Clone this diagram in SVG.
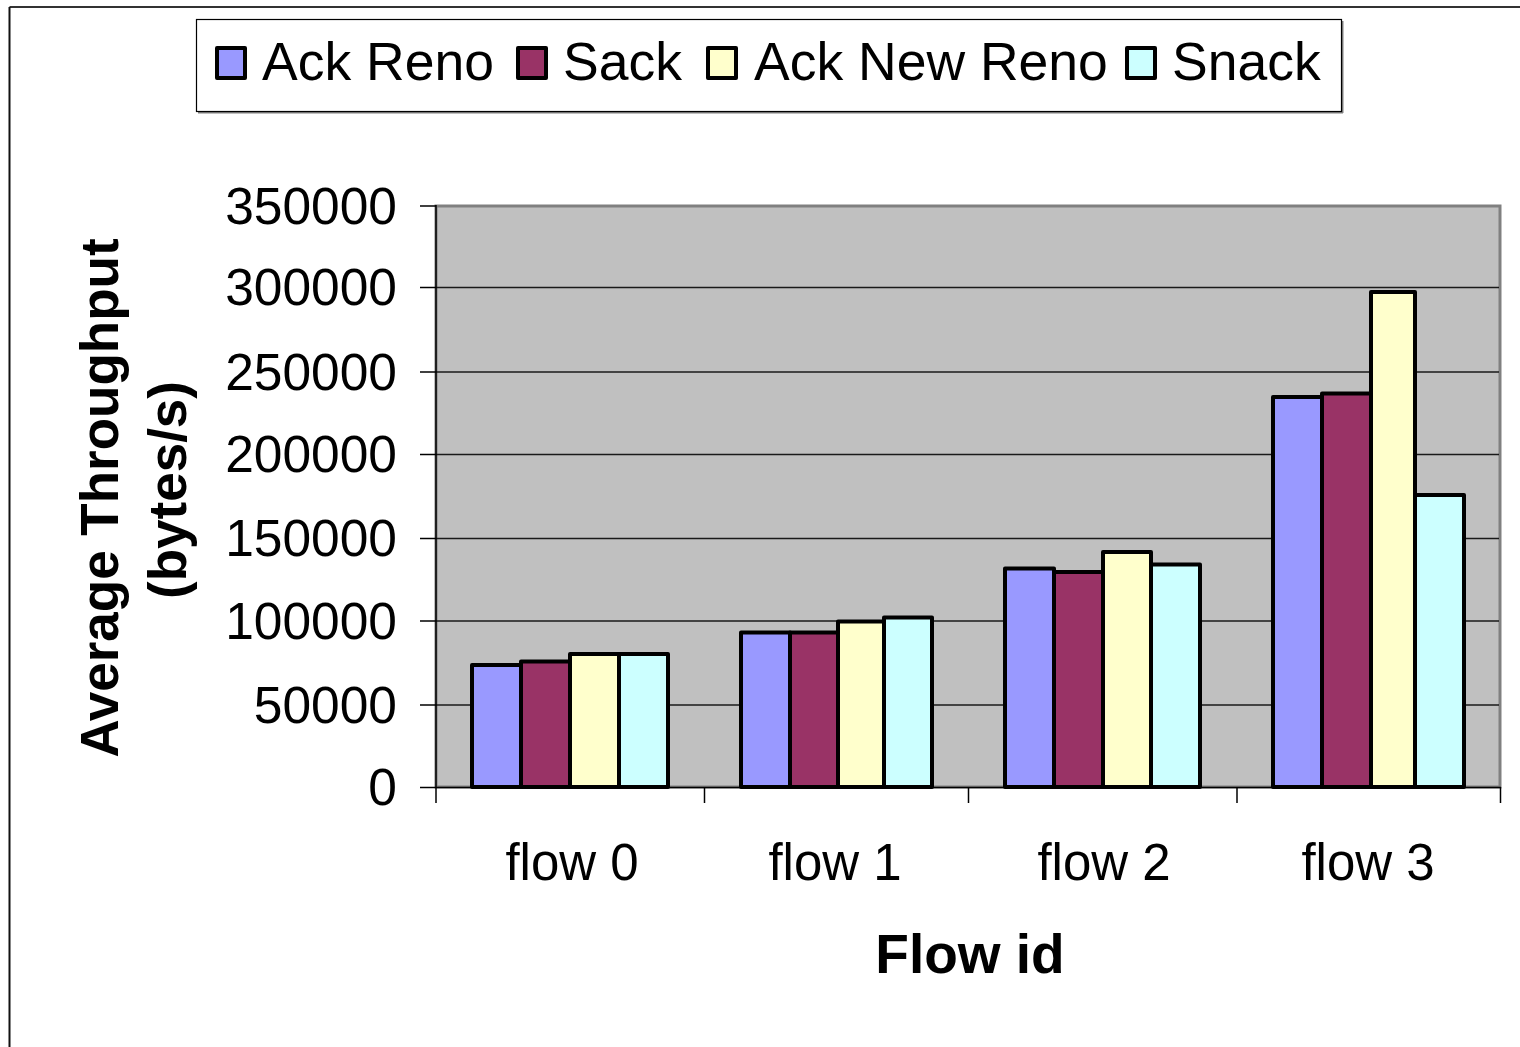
<svg xmlns="http://www.w3.org/2000/svg" width="1520" height="1047" viewBox="0 0 1520 1047">
  <style>
    text { font-family: "Liberation Sans", Arial, sans-serif; fill: #000; }
    .tick { font-size: 51.5px; text-anchor: end; }
    .cat { font-size: 51px; text-anchor: middle; }
    .leg { font-size: 53.5px; }
    .title { font-size: 53px; font-weight: bold; text-anchor: middle; }
    .xtitle { font-size: 55px; }
    .bar { stroke: #000; stroke-width: 4; stroke-linejoin: round; }
    .s1 { fill: #9999FF; }
    .s2 { fill: #993366; }
    .s3 { fill: #FFFFCC; }
    .s4 { fill: #CCFFFF; }
    .grid { stroke: #1a1a1a; stroke-width: 1.3; }
    .axis { stroke: #000; stroke-width: 1.5; }
  </style>

  <rect x="0" y="0" width="1520" height="1047" fill="#fff"/>

  <!-- outer chart frame -->
  <g id="frame">
    <line x1="9.5" y1="7" x2="1520" y2="7" stroke="#333" stroke-width="2"/>
    <line x1="9.5" y1="7" x2="9.5" y2="1047" stroke="#111" stroke-width="2"/>
  </g>

  <!-- legend -->
  <g id="legend">
    <line x1="198" y1="112.5" x2="1343" y2="112.5" stroke="#808080" stroke-width="2"/>
    <line x1="1342.5" y1="21" x2="1342.5" y2="113" stroke="#808080" stroke-width="2"/>
    <rect x="196.5" y="19.5" width="1145" height="92" fill="#fff" stroke="#000" stroke-width="1.2"/>
    <g id="legend-ack-reno">
      <rect class="bar s1" x="217" y="48" width="28" height="30"/>
      <text class="leg" x="262" y="80">Ack Reno</text>
    </g>
    <g id="legend-sack">
      <rect class="bar s2" x="518" y="48" width="28" height="30"/>
      <text class="leg" x="563" y="80">Sack</text>
    </g>
    <g id="legend-ack-new-reno">
      <rect class="bar s3" x="708" y="48" width="28" height="30"/>
      <text class="leg" x="754" y="80">Ack New Reno</text>
    </g>
    <g id="legend-snack">
      <rect class="bar s4" x="1127" y="48" width="28" height="30"/>
      <text class="leg" x="1172" y="80">Snack</text>
    </g>
  </g>

  <!-- plot area -->
  <g id="plot">
    <rect x="436" y="206" width="1064" height="581" fill="#C0C0C0" stroke="#808080" stroke-width="3"/>
    <g id="gridlines">
      <line class="grid" x1="436" y1="287.5" x2="1499" y2="287.5"/>
      <line class="grid" x1="436" y1="372" x2="1499" y2="372"/>
      <line class="grid" x1="436" y1="454.5" x2="1499" y2="454.5"/>
      <line class="grid" x1="436" y1="538.5" x2="1499" y2="538.5"/>
      <line class="grid" x1="436" y1="621" x2="1499" y2="621"/>
      <line class="grid" x1="436" y1="705" x2="1499" y2="705"/>
    </g>
  </g>

  <!-- bars: flow 0 -->
  <g id="flow0">
    <rect class="bar s1" x="472" y="665" width="49" height="122"/>
    <rect class="bar s2" x="521" y="661.5" width="49" height="125.5"/>
    <rect class="bar s3" x="570" y="654" width="49" height="133"/>
    <rect class="bar s4" x="619" y="654" width="49" height="133"/>
  </g>
  <!-- bars: flow 1 -->
  <g id="flow1">
    <rect class="bar s1" x="741" y="632.5" width="49" height="154.5"/>
    <rect class="bar s2" x="790" y="632.5" width="48" height="154.5"/>
    <rect class="bar s3" x="838" y="621.5" width="46" height="165.5"/>
    <rect class="bar s4" x="884" y="617.5" width="48" height="169.5"/>
  </g>
  <!-- bars: flow 2 -->
  <g id="flow2">
    <rect class="bar s1" x="1005" y="568.5" width="49" height="218.5"/>
    <rect class="bar s2" x="1054" y="572" width="49" height="215"/>
    <rect class="bar s3" x="1103" y="552" width="48" height="235"/>
    <rect class="bar s4" x="1151" y="564.5" width="49" height="222.5"/>
  </g>
  <!-- bars: flow 3 -->
  <g id="flow3">
    <rect class="bar s1" x="1273" y="397" width="49" height="390"/>
    <rect class="bar s2" x="1322" y="393.5" width="49" height="393.5"/>
    <rect class="bar s3" x="1371" y="292" width="44" height="495"/>
    <rect class="bar s4" x="1415" y="495" width="49" height="292"/>
  </g>

  <!-- axes and ticks -->
  <g id="axes">
    <line class="axis" x1="436" y1="205" x2="436" y2="788"/>
    <line class="axis" x1="436" y1="787.5" x2="1501" y2="787.5"/>
    <line class="axis" x1="420" y1="206" x2="436" y2="206"/>
    <line class="axis" x1="420" y1="287.5" x2="436" y2="287.5"/>
    <line class="axis" x1="420" y1="372" x2="436" y2="372"/>
    <line class="axis" x1="420" y1="454.5" x2="436" y2="454.5"/>
    <line class="axis" x1="420" y1="538.5" x2="436" y2="538.5"/>
    <line class="axis" x1="420" y1="621" x2="436" y2="621"/>
    <line class="axis" x1="420" y1="705" x2="436" y2="705"/>
    <line class="axis" x1="420" y1="787.5" x2="436" y2="787.5"/>
    <line class="axis" x1="436" y1="787" x2="436" y2="803"/>
    <line class="axis" x1="704.5" y1="787" x2="704.5" y2="803"/>
    <line class="axis" x1="968.5" y1="787" x2="968.5" y2="803"/>
    <line class="axis" x1="1237" y1="787" x2="1237" y2="803"/>
    <line class="axis" x1="1500.5" y1="787" x2="1500.5" y2="803"/>
  </g>

  <!-- value axis labels -->
  <g id="y-labels">
    <text class="tick" x="397" y="224">350000</text>
    <text class="tick" x="397" y="305">300000</text>
    <text class="tick" x="397" y="390">250000</text>
    <text class="tick" x="397" y="472">200000</text>
    <text class="tick" x="397" y="556">150000</text>
    <text class="tick" x="397" y="639">100000</text>
    <text class="tick" x="397" y="723">50000</text>
    <text class="tick" x="397" y="805">0</text>
  </g>

  <!-- category labels -->
  <g id="x-labels">
    <text class="cat" x="572" y="880">flow 0</text>
    <text class="cat" x="835" y="880">flow 1</text>
    <text class="cat" x="1104" y="880">flow 2</text>
    <text class="cat" x="1368" y="880">flow 3</text>
  </g>

  <!-- axis titles -->
  <g id="titles">
    <text class="title xtitle" x="970" y="973">Flow id</text>
    <text class="title" transform="translate(118,498) rotate(-90)" x="0" y="0">Average Throughput</text>
    <text class="title" transform="translate(186,490) rotate(-90)" x="0" y="0">(bytes/s)</text>
  </g>
</svg>
